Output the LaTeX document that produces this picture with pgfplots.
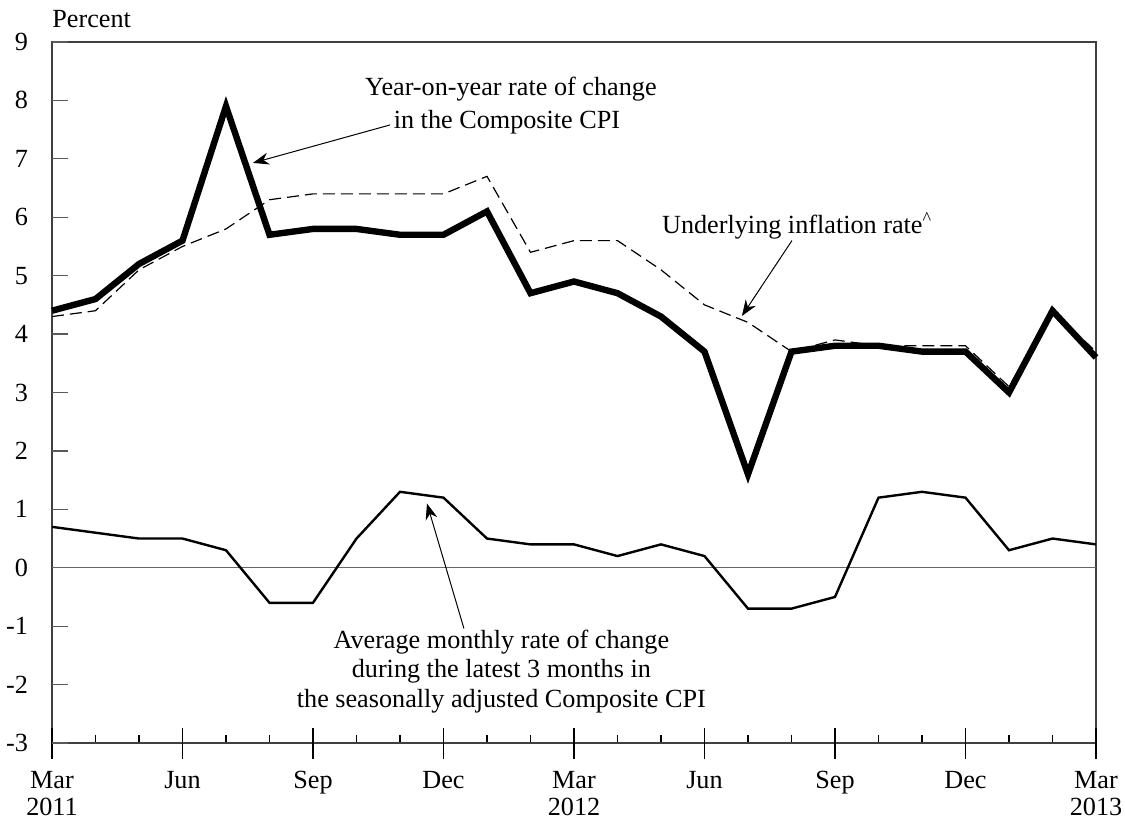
\documentclass[border=0pt]{standalone}
\usepackage{fontspec}
\setmainfont{Liberation Serif}
\usepackage{pgfplots}
\pgfplotsset{compat=1.18}
\usetikzlibrary{arrows.meta}
\begin{document}
\fontsize{13.1}{15}\selectfont
\begin{tikzpicture}
\begin{axis}[
  width=522pt, height=350.5pt, scale only axis,
  xmin=0, xmax=24, ymin=-3, ymax=9,
  axis line style={black!75, line width=0.6pt},
  ytick=\empty,
  extra y ticks={-3,-2,-1,0,1,2,3,4,5,6,7,8,9},
  extra y tick labels={-3,-2,-1,0,1,2,3,4,5,6,7,8,9},
  extra y tick style={major tick length=8pt, tick style={black!65, line width=0.6pt}},
  ytick pos=left, xtick pos=bottom,
  tick align=inside, major tick length=4pt,
  tick style={black, line width=0.6pt},
  xtick={0,...,24},
  xticklabels={,,,,,,,,,,,,,,,,,,,,,,,,},
  extra x ticks={0,3,6,9,12,15,18,21,24},
  extra x tick labels={Mar\\2011,Jun,Sep,Dec,Mar\\2012,Jun,Sep,Dec,Mar\\2013},
  extra x tick style={tick align=center, major tick length=15.5pt},
  x tick label style={align=center, font=\fontsize{13.1}{13.6}\selectfont, yshift=-2pt},
  y tick label style={font=\fontsize{13.1}{15}\selectfont, xshift=-7.5pt},
  clip=false,
]
\addplot[black!60, line width=0.6pt] coordinates {(0,0) (24,0)};
\addplot[black, line width=1.2pt] coordinates {
(0,0.7) (1,0.6) (2,0.5) (3,0.5) (4,0.3) (5,-0.6) (6,-0.6) (7,0.5) (8,1.3) (9,1.2)
(10,0.5) (11,0.4) (12,0.4) (13,0.2) (14,0.4) (15,0.2) (16,-0.7) (17,-0.7) (18,-0.5)
(19,1.2) (20,1.3) (21,1.2) (22,0.3) (23,0.5) (24,0.4)};
\addplot[black, line width=0.6pt, dash pattern=on 6pt off 3pt] coordinates {
(0,4.3) (1,4.4) (2,5.1) (3,5.5) (4,5.8) (5,6.3) (6,6.4) (7,6.4) (8,6.4) (9,6.4)
(10,6.7) (11,5.4) (12,5.6) (13,5.6) (14,5.1) (15,4.5) (16,4.2) (17,3.7) (18,3.9)
(19,3.8) (20,3.8) (21,3.8) (22,3.1) (23,4.4) (24,3.7)};
\addplot[black, line width=3.2pt] coordinates {
(0,4.4) (1,4.6) (2,5.2) (3,5.6) (4,7.9) (5,5.7) (6,5.8) (7,5.8) (8,5.7) (9,5.7)
(10,6.1) (11,4.7) (12,4.9) (13,4.7) (14,4.3) (15,3.7) (16,1.6) (17,3.7) (18,3.8)
(19,3.8) (20,3.7) (21,3.7) (22,3.0) (23,4.4) (24,3.6)};
\node[anchor=base west, inner sep=0pt] at ([yshift=7pt]axis cs:0,9) {Percent};
\node at (axis cs:10.55,8.20) {Year-on-year rate of change};
\node at (axis cs:10.46,7.62) {in the Composite CPI};
\draw[line width=0.5pt, -{Stealth[length=8pt,width=6pt]}] (axis cs:7.77,7.58) -- (axis cs:4.62,6.93);
\node at (axis cs:17.13,5.85) {Underlying inflation rate\textsuperscript{\textasciicircum}};
\draw[line width=0.5pt, -{Stealth[length=8pt,width=6pt]}] (axis cs:17.01,5.60) -- (axis cs:15.86,4.31);
\node at (axis cs:10.33,-1.27) {Average monthly rate of change};
\node at (axis cs:10.33,-1.78) {during the latest 3 months in};
\node at (axis cs:10.33,-2.29) {the seasonally adjusted Composite CPI};
\draw[line width=0.5pt, -{Stealth[length=8pt,width=6pt]}] (axis cs:9.47,-1.04) -- (axis cs:8.62,1.10);
\end{axis}
\pgfresetboundingbox
\path ([shift={(-26pt,-39pt)}]current axis.south west) rectangle ([shift={(14.5pt,21pt)}]current axis.north east);
\end{tikzpicture}
\end{document}
